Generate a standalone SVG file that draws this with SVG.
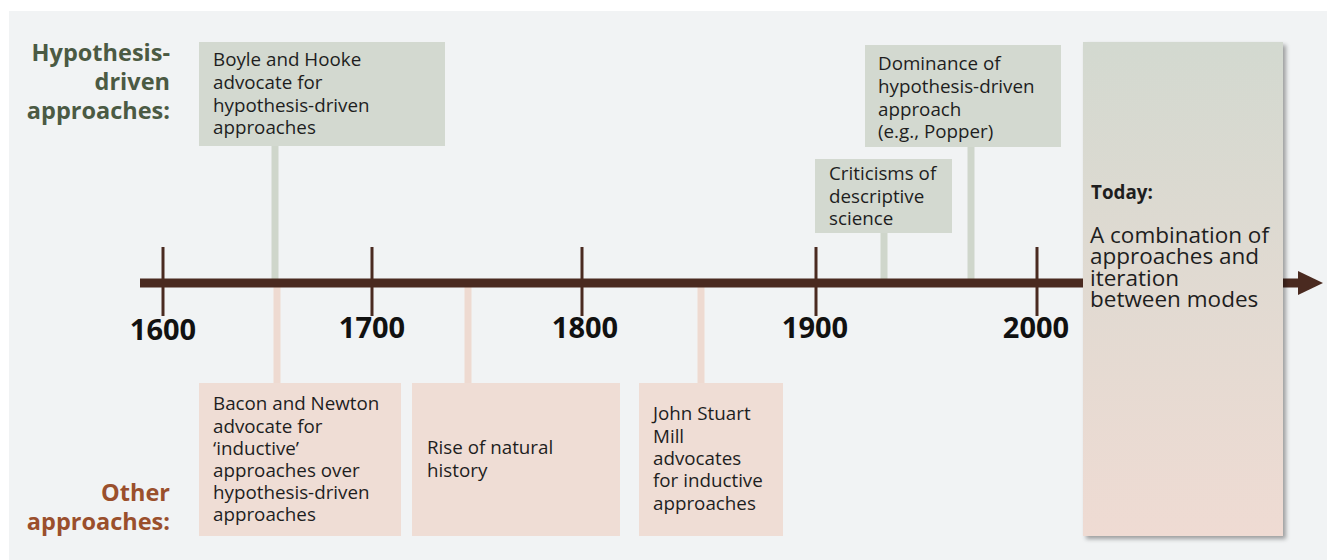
<svg xmlns="http://www.w3.org/2000/svg" width="1327" height="560" viewBox="0 0 1327 560">
  <style>
    .box-h { fill: #d3d9d0; }
    .box-o { fill: #efddd5; }
    .stem-h { stroke: #cfd6cb; stroke-width: 7; }
    .stem-o { stroke: #eedad1; stroke-width: 7; }
    .tick { stroke: #4a2a20; stroke-width: 3; }
    .txt { font-family: "Open Sans", "Liberation Sans", sans-serif; font-size: 18.8px; fill: #1e1e1e; }
    .wide { font-family: "Open Sans", "Liberation Sans", sans-serif; font-size: 22.5px; fill: #1e1e1e; }
    .year { font-family: "Open Sans", "Liberation Sans", sans-serif; font-size: 29px; font-weight: bold; fill: #111; text-anchor: middle; }
    .side { font-family: "Open Sans", "Liberation Sans", sans-serif; font-size: 23.5px; font-weight: bold; text-anchor: end; }
  </style>
  <defs>
    <linearGradient id="todayGrad" x1="0" y1="0" x2="0" y2="1">
      <stop offset="0" stop-color="#d3d9d0"/>
      <stop offset="1" stop-color="#efdbd3"/>
    </linearGradient>
    <filter id="shadow" x="-10%" y="-5%" width="125%" height="115%">
      <feDropShadow dx="3" dy="3" stdDeviation="2" flood-color="#000" flood-opacity="0.35"/>
    </filter>
  </defs>

  <!-- page background -->
  <rect x="0" y="0" width="1327" height="560" fill="#ffffff"/>
  <rect x="9" y="11" width="1318" height="549" fill="#f1f3f4"/>

  <!-- row labels -->
  <g id="label-hypothesis" fill="#4b5a43">
    <text x="170" y="61" class="side">Hypothesis-</text>
    <text x="170" y="90" class="side">driven</text>
    <text x="170" y="119" class="side">approaches:</text>
  </g>
  <g id="label-other" fill="#9a4f2c">
    <text x="170" y="501" class="side">Other</text>
    <text x="170" y="530" class="side">approaches:</text>
  </g>

  <!-- connectors: stems from event boxes to the time axis -->
  <g id="connectors">
    <line class="stem-h" x1="275" y1="146" x2="275" y2="280"/>
    <line class="stem-h" x1="884" y1="233" x2="884" y2="280"/>
    <line class="stem-h" x1="971" y1="147" x2="971" y2="280"/>
    <line class="stem-o" x1="277" y1="287" x2="277" y2="384"/>
    <line class="stem-o" x1="468" y1="287" x2="468" y2="384"/>
    <line class="stem-o" x1="701" y1="287" x2="701" y2="384"/>
  </g>

  <!-- time axis -->
  <g id="axis">
    <line x1="140" y1="283" x2="1302" y2="283" stroke="#4a2a20" stroke-width="9"/>
    <polygon points="1298,271 1323,283 1298,295" fill="#4a2a20"/>
    <line class="tick" x1="163" y1="247" x2="163" y2="316"/>
    <line class="tick" x1="372" y1="247" x2="372" y2="316"/>
    <line class="tick" x1="582" y1="247" x2="582" y2="316"/>
    <line class="tick" x1="816" y1="247" x2="816" y2="316"/>
    <line class="tick" x1="1037" y1="247" x2="1037" y2="316"/>
    <text class="year" x="163" y="340">1600</text>
    <text class="year" x="372" y="338">1700</text>
    <text class="year" x="585" y="338">1800</text>
    <text class="year" x="815" y="338">1900</text>
    <text class="year" x="1036" y="338">2000</text>
  </g>

  <!-- hypothesis-driven events -->
  <g id="boyle-hooke">
    <rect class="box-h" x="199" y="42" width="246" height="104"/>
    <text class="txt" x="213" y="66">Boyle and Hooke</text>
    <text class="txt" x="213" y="89">advocate for</text>
    <text class="txt" x="213" y="112">hypothesis-driven</text>
    <text class="txt" x="213" y="134">approaches</text>
  </g>
  <g id="criticisms">
    <rect class="box-h" x="815" y="159" width="137" height="74"/>
    <text class="txt" x="829" y="180">Criticisms of</text>
    <text class="txt" x="829" y="203">descriptive</text>
    <text class="txt" x="829" y="225">science</text>
  </g>
  <g id="dominance">
    <rect class="box-h" x="865" y="45" width="196" height="102"/>
    <text class="txt" x="878" y="70">Dominance of</text>
    <text class="txt" x="878" y="93">hypothesis-driven</text>
    <text class="txt" x="878" y="116">approach</text>
    <text class="txt" x="878" y="138">(e.g., Popper)</text>
  </g>

  <!-- other approaches -->
  <g id="bacon-newton">
    <rect class="box-o" x="199" y="383" width="202" height="153"/>
    <text class="txt" x="213" y="410">Bacon and Newton</text>
    <text class="txt" x="213" y="433">advocate for</text>
    <text class="txt" x="213" y="455">‘inductive’</text>
    <text class="txt" x="213" y="477">approaches over</text>
    <text class="txt" x="213" y="499">hypothesis-driven</text>
    <text class="txt" x="213" y="521">approaches</text>
  </g>
  <g id="natural-history">
    <rect class="box-o" x="412" y="383" width="208" height="153"/>
    <text class="txt" x="427" y="454">Rise of natural</text>
    <text class="txt" x="427" y="477">history</text>
  </g>
  <g id="mill">
    <rect class="box-o" x="639" y="383" width="144" height="153"/>
    <text class="txt" x="653" y="420">John Stuart</text>
    <text class="txt" x="653" y="443">Mill</text>
    <text class="txt" x="653" y="465">advocates</text>
    <text class="txt" x="653" y="487">for inductive</text>
    <text class="txt" x="653" y="510">approaches</text>
  </g>

  <!-- present day -->
  <g id="today">
    <rect x="1083" y="42" width="200" height="494" fill="url(#todayGrad)" filter="url(#shadow)"/>
    <text class="txt" x="1091" y="199" font-weight="bold" font-size="20">Today:</text>
    <text class="wide" x="1090" y="243">A combination of</text>
    <text class="wide" x="1090" y="264">approaches and</text>
    <text class="wide" x="1090" y="286">iteration</text>
    <text class="wide" x="1090" y="307">between modes</text>
  </g>
</svg>
